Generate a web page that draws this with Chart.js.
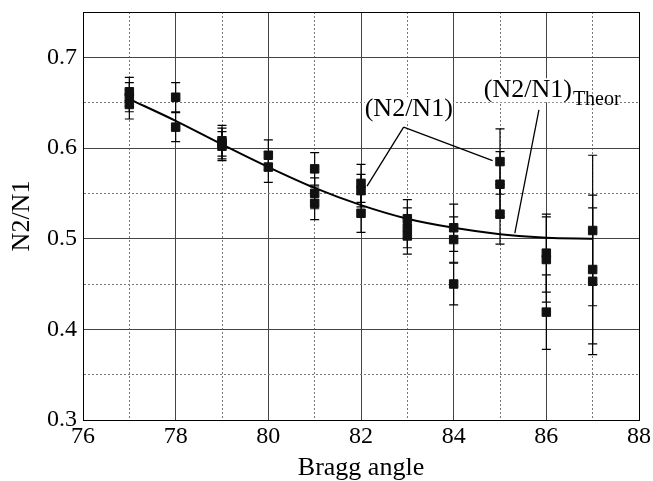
<!DOCTYPE html>
<html>
<head>
<meta charset="utf-8">
<script src="https://cdn.jsdelivr.net/npm/chart.js@4/dist/chart.umd.min.js"></script>
<style>
  html, body { margin: 0; padding: 0; background: #fff; }
  #wrap { width: 653px; height: 481px; }
</style>
</head>
<body>
<div id="wrap"><canvas id="c" width="653" height="481"></canvas></div>
<script>
// Measured points (Bragg angle, N2/N1 ratio, error half-width)
const angles = [77, 77, 77, 78, 78, 79, 79, 79, 80, 80, 81, 81, 81, 82, 82, 82, 83, 83, 83, 84, 84, 84, 85, 85, 85, 86, 86, 86, 87, 87, 87];
const ratios = [0.662, 0.656, 0.648, 0.656, 0.623, 0.608, 0.605, 0.602, 0.592, 0.579, 0.577, 0.550, 0.539, 0.561, 0.553, 0.528, 0.522, 0.512, 0.503, 0.512, 0.499, 0.450, 0.585, 0.560, 0.527, 0.484, 0.477, 0.419, 0.509, 0.466, 0.453];
const errors = [0.016, 0.016, 0.016, 0.016, 0.016, 0.017, 0.017, 0.016, 0.017, 0.017, 0.018, 0.017, 0.018, 0.021, 0.018, 0.021, 0.021, 0.022, 0.020, 0.026, 0.025, 0.023, 0.036, 0.036, 0.033, 0.043, 0.047, 0.041, 0.083, 0.082, 0.081];

// Theoretical curve
const theorAngles = [77, 78, 79, 80, 81, 82, 83, 84, 85, 86, 87];
const theorRatios = [0.654, 0.630, 0.604, 0.579, 0.556, 0.537, 0.522, 0.512, 0.505, 0.501, 0.500];

// Axis settings
const xRange = [76, 88];
const yRange = [0.3, 0.75];
const xLabel = 'Bragg angle';
const yLabel = 'N2/N1';

// Annotation labels (data coordinates)
const measLabel = { text: '(N2/N1)', x: 82.08, y: 0.635 };
const measLeader = { from: [82.92, 0.623], to: [[82.13, 0.558], [84.84, 0.586]] };
const theorLabel = { text: '(N2/N1)', sub: 'Theor', x: 84.65, y: 0.656, subY: 0.647 };
const theorLeader = { from: [85.84, 0.642], to: [85.32, 0.506] };

const SERIF = "'Liberation Serif', 'Times New Roman', serif";

const measured = angles.map((a, i) => ({ x: a, y: ratios[i] }));
const theory = theorAngles.map((a, i) => ({ x: a, y: theorRatios[i] }));

const errorBarPlugin = {
  id: 'errorBars',
  beforeDatasetsDraw(chart) {
    const { ctx, scales: { x, y } } = chart;
    ctx.save();
    ctx.strokeStyle = '#000';
    ctx.lineWidth = 1.2;
    for (let i = 0; i < angles.length; i++) {
      const px = x.getPixelForValue(angles[i]);
      const top = y.getPixelForValue(ratios[i] + errors[i]);
      const bot = y.getPixelForValue(ratios[i] - errors[i]);
      ctx.beginPath();
      ctx.moveTo(px, top); ctx.lineTo(px, bot);
      ctx.moveTo(px - 4.5, top); ctx.lineTo(px + 4.5, top);
      ctx.moveTo(px - 4.5, bot); ctx.lineTo(px + 4.5, bot);
      ctx.stroke();
    }
    ctx.restore();
  }
};

const annotationPlugin = {
  id: 'annotations',
  afterDatasetsDraw(chart) {
    const { ctx, scales: { x, y } } = chart;
    const P = (a, b) => [x.getPixelForValue(a), y.getPixelForValue(b)];
    ctx.save();
    ctx.fillStyle = '#000';
    ctx.textBaseline = 'alphabetic';
    ctx.textAlign = 'left';
    ctx.font = '26px ' + SERIF;
    let [lx, ly] = P(measLabel.x, measLabel.y);
    let w = ctx.measureText(measLabel.text).width;
    ctx.fillStyle = '#fff';
    ctx.fillRect(lx, ly - 19, w, 24);
    ctx.fillStyle = '#000';
    ctx.fillText(measLabel.text, lx, ly);
    let [tx, ty] = P(theorLabel.x, theorLabel.y);
    w = ctx.measureText(theorLabel.text).width;
    ctx.fillStyle = '#fff';
    ctx.fillRect(tx, ty - 19, w, 24);
    ctx.fillStyle = '#000';
    ctx.fillText(theorLabel.text, tx, ty);
    const subY = y.getPixelForValue(theorLabel.subY);
    ctx.font = '20px ' + SERIF;
    ctx.fillText(theorLabel.sub, tx + w + 1, subY);
    ctx.strokeStyle = '#000';
    ctx.lineWidth = 1.3;
    ctx.beginPath();
    const f = P(...measLeader.from);
    measLeader.to.forEach(t => {
      const p = P(...t);
      ctx.moveTo(f[0], f[1]); ctx.lineTo(p[0], p[1]);
    });
    const g = P(...theorLeader.from), h = P(...theorLeader.to);
    ctx.moveTo(g[0], g[1]); ctx.lineTo(h[0], h[1]);
    ctx.stroke();
    ctx.restore();
  }
};

const framePlugin = {
  id: 'frame',
  afterDraw(chart) {
    const { ctx, chartArea: a } = chart;
    ctx.save();
    ctx.strokeStyle = '#000';
    ctx.lineWidth = 1;
    ctx.strokeRect(Math.round(a.left) + 0.5, Math.round(a.top) + 0.5, Math.round(a.right - a.left), Math.round(a.bottom - a.top));
    ctx.restore();
  }
};

const isMajorX = v => Math.round(v) % 2 === 0;
const isMajorY = v => Math.round(v * 100) % 10 === 0;

new Chart(document.getElementById('c'), {
  type: 'scatter',
  data: {
    datasets: [
      {
        label: 'theory',
        data: theory,
        showLine: true,
        borderColor: '#000',
        borderWidth: 2,
        pointRadius: 0,
        cubicInterpolationMode: 'monotone',
        order: 2
      },
      {
        label: 'measured',
        data: measured,
        showLine: false,
        pointStyle: 'rect',
        pointRadius: 6,
        borderWidth: 1,
        backgroundColor: '#111',
        borderColor: '#111',
        order: 1
      }
    ]
  },
  options: {
    responsive: false,
    animation: false,
    devicePixelRatio: 1,
    layout: { padding: { left: 0, right: 14, top: 12, bottom: 0 } },
    plugins: { legend: { display: false }, tooltip: { enabled: false } },
    scales: {
      x: {
        type: 'linear',
        min: xRange[0], max: xRange[1],
        afterFit: s => { s.height = 61; s.paddingLeft = 0; s.paddingRight = 0; },
        ticks: {
          stepSize: 1,
          autoSkip: false,
          maxRotation: 0,
          padding: 2,
          color: '#000',
          font: { family: SERIF, size: 24 },
          callback: v => isMajorX(v) ? String(v) : ''
        },
        grid: {
          drawTicks: false,
          color: c => (c.tick && !isMajorX(c.tick.value)) ? '#777' : '#444',
          lineWidth: 1
        },
        border: {
          display: true, color: '#000', width: 1,
          dash: c => (c.tick && !isMajorX(c.tick.value)) ? [2, 2] : []
        },
        title: {
          display: true, text: xLabel, color: '#000',
          font: { family: SERIF, size: 26 },
          padding: { top: 0, bottom: -3 }
        }
      },
      y: {
        type: 'linear',
        min: yRange[0], max: yRange[1],
        afterFit: s => { s.width = 83; s.paddingTop = 0; s.paddingBottom = 0; },
        ticks: {
          stepSize: 0.05,
          autoSkip: false,
          padding: 6,
          color: '#000',
          font: { family: SERIF, size: 24 },
          callback: v => isMajorY(v) ? v.toFixed(1) : ''
        },
        grid: {
          drawTicks: false,
          color: c => (c.tick && !isMajorY(c.tick.value)) ? '#777' : '#444',
          lineWidth: 1
        },
        border: {
          display: true, color: '#000', width: 1,
          dash: c => (c.tick && !isMajorY(c.tick.value)) ? [2, 2] : []
        },
        title: {
          display: true, text: yLabel, color: '#000',
          font: { family: SERIF, size: 26 },
          padding: { top: 7, bottom: 0 }
        }
      }
    }
  },
  plugins: [errorBarPlugin, annotationPlugin, framePlugin]
});
</script>
</body>
</html>
